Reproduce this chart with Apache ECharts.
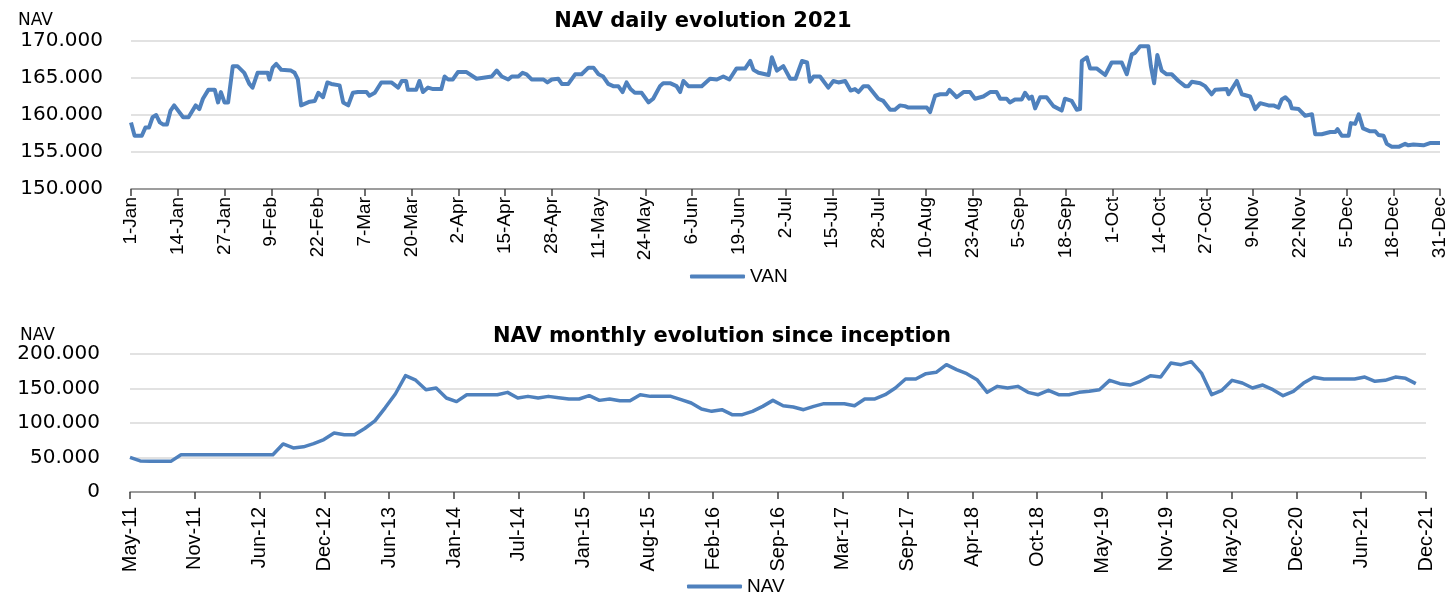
<!DOCTYPE html>
<html lang="en">
<head>
    <meta charset="UTF-8">
    <title>NAV evolution</title>
    <script src="https://cdn.jsdelivr.net/npm/echarts@6/dist/echarts.min.js"></script>
    <style>
        html, body { margin: 0; padding: 0; background: #fff; }
        #chart { width: 1456px; height: 594px; }
    </style>
</head>
<body>
    <div id="chart"></div>

    <script>
        // daily chart 2021 (x = day of year, 0 = 1-Jan)
        const dailyTickLabels = ['1-Jan','14-Jan','27-Jan','9-Feb','22-Feb','7-Mar','20-Mar','2-Apr','15-Apr','28-Apr',
            '11-May','24-May','6-Jun','19-Jun','2-Jul','15-Jul','28-Jul','10-Aug','23-Aug','5-Sep','18-Sep',
            '1-Oct','14-Oct','27-Oct','9-Nov','22-Nov','5-Dec','18-Dec','31-Dec'];

        const dailyDay = [0,1,3,4,5,6,7,8,9,10,11,12,14.5,16,18,19,20,21.5,23.3,24.2,25,26,27,28.3,29.6,31.5,32.9,33.8,35.2,38,
            38.5,39.4,40.4,41.8,44.5,45.5,46.4,47.3,49.7,51.1,52.1,53.4,54.6,55.7,58,59,60.4,61.7,63.1,65.5,66.3,67.8,69.6,72.4,
            74.3,75.3,76.5,77,79.3,80.2,81.2,82.6,84,86.3,87.2,88.2,89.5,90.9,93.3,96.1,100.3,101.7,103.1,104.9,105.9,107.7,
            108.9,110,111.4,114.7,115.8,117,118.8,119.8,121.6,123.5,125.3,127.2,128.6,130,131.3,132.7,134.1,135.5,136.7,137.8,
            138.9,140.1,142,143.9,145.2,147.1,148,149.9,151.7,152.7,153.6,155,158.7,161,162.9,164.7,166.4,168.4,170.8,172.2,
            173.1,174.5,177.3,178.2,179.6,181.4,183.3,184.8,186.6,188,188.8,189.8,191.6,193.9,195.3,196.7,198.6,200.1,201.3,
            202.3,203.7,205,207.8,209.2,211.1,212.4,213.8,215.2,216.2,221.3,222.2,223.6,225,226.8,227.6,229.6,231.5,233.3,
            234.7,237,238.9,240.7,241.7,243.5,244.4,245.8,247.7,248.6,249.8,250.5,251.4,252.8,254.6,256.5,258.8,259.7,261.6,
            263,263.9,264.4,265.8,266.7,268.5,270.9,272.7,275.5,276.9,278.3,279.2,280.6,282.9,283.6,284.5,285.4,286.6,288,
            289.4,291.3,293.1,294,295,297.3,298.7,300.5,301.5,304.7,305.2,307.5,308.9,311.2,312.6,314,316.3,317.7,319.1,320,
            321,322.2,322.8,324.7,326.5,328.4,329.3,331.1,333.5,334.9,335.5,336.7,338.6,339.2,340.4,341.4,342.6,344.6,346,
            346.9,348.3,349.2,350.6,352.5,354.3,355.2,356.6,359.4,361.2,364];

        const dailyNav = [159000,157200,157200,158300,158300,159700,160000,159000,158700,158700,160600,161300,159700,159700,
            161300,160800,162200,163400,163400,161700,163100,161700,161700,166600,166600,165700,164200,163700,165700,165700,
            164800,166400,166900,166100,166000,165700,164800,161300,161800,161900,163000,162400,164400,164200,164000,161700,
            161300,163000,163100,163100,162600,163000,164400,164400,163700,164600,164600,163400,163400,164600,163100,163700,
            163500,163500,165200,164800,164800,165800,165800,164900,165200,166000,165200,164800,165200,165200,165700,165500,
            164800,164800,164400,164800,164900,164200,164200,165500,165500,166400,166400,165500,165200,164200,163900,163900,
            163100,164400,163500,163000,163000,161700,162200,163900,164300,164300,163900,163100,164600,163900,163900,164900,
            164800,165200,164800,166300,166300,167300,166100,165700,165400,167800,166000,166600,164900,164900,167300,167100,
            164500,165200,165200,163700,164600,164400,164600,163300,163500,163100,163900,163900,162200,161900,160700,160700,
            161300,161200,161000,161000,160400,162600,162800,162800,163400,162400,163100,163100,162200,162500,163100,163100,
            162200,162200,161700,162100,162100,163000,162200,162500,160900,162400,162400,161200,160600,162200,161900,160700,
            160800,167300,167800,166300,166300,165400,167100,167100,165500,168200,168400,169300,169300,166600,164300,168100,
            166000,165500,165500,164600,163900,163900,164500,164300,163900,162800,163400,163500,162800,164600,162800,162500,
            160800,161600,161300,161300,161000,162100,162400,161800,160900,160800,159900,160100,157400,157400,157700,157700,
            158100,157200,157200,158900,158800,160100,158200,157800,157800,157300,157200,156100,155700,155700,156100,155900,
            156000,155900,156200,156200];

        // monthly chart since inception (x = months since May-11)
        const monthlyTickLabels = ['May-11','Nov-11','Jun-12','Dec-12','Jun-13','Jan-14','Jul-14','Jan-15','Aug-15','Feb-16',
            'Sep-16','Mar-17','Sep-17','Apr-18','Oct-18','May-19','Nov-19','May-20','Dec-20','Jun-21','Dec-21'];

        const monthlyNav = [50200,45000,44400,44400,44400,54000,54000,54000,54000,54000,
            54000,54000,54000,54000,54000,69600,63800,65500,70000,76000,
            85500,83100,83100,92000,103000,122000,142000,168600,162000,148300,
            150700,136200,131000,141000,141000,141000,141000,144400,136200,138600,
            136200,138600,136700,134800,134800,139600,132800,134800,132300,132300,
            141000,138600,138600,138600,133800,129000,120300,116900,119300,112100,
            112100,116900,124100,132800,125100,123200,119300,124100,128000,128000,
            128000,125100,134800,134800,141000,150700,163700,163700,171500,173500,
            184500,177300,171500,162800,144400,153100,150700,153100,144400,141000,
            147300,141000,141000,144400,145900,148300,161800,157000,155000,160400,
            168600,166600,186900,184500,188900,172400,141000,147300,161800,157900,
            150700,155000,148300,139600,145900,157900,166200,163700,163700,163700,
            163700,166600,160400,161800,166600,164700,157000];

        const blue = '#4f81bd';
        const dailyData = dailyDay.map((d, i) => [d, dailyNav[i]]);
        const monthlyData = monthlyNav.map((v, i) => [i, v]);

        function thousands(v){
            return String(v).replace(/\B(?=(\d{3})+(?!\d))/g, '.');
        }

        const chart = echarts.init(document.getElementById('chart'));
        const option = {
            animation: false,
            graphic: [
                {type: 'text', x: 703, y: 11, style: {text: 'NAV daily evolution 2021', textAlign: 'center',
                    font: 'bold 21px "DejaVu Sans"', fill: '#000'}},
                {type: 'text', x: 722, y: 326, style: {text: 'NAV monthly evolution since inception', textAlign: 'center',
                    font: 'bold 21px "DejaVu Sans"', fill: '#000'}},
                {type: 'text', x: 18, y: 12, style: {text: 'NAV', font: '17px "DejaVu Sans"', fill: '#000'}},
                {type: 'text', x: 20, y: 327, style: {text: 'NAV', font: '17px "DejaVu Sans"', fill: '#000'}},
                // the bottom tick labels are cut off above the legend, as in the original
                {type: 'rect', z: 2, shape: {x: 90, y: 573, width: 1366, height: 21}, style: {fill: '#fff'}}
            ],
            legend: [
                {data: ['VAN'], left: 690, top: 267, icon: 'roundRect', itemWidth: 55, itemHeight: 4, padding: 0, z: 5,
                    textStyle: {fontFamily: 'Liberation Sans', fontSize: 19, color: '#000'}},
                {data: ['NAV'], left: 687, top: 577, icon: 'roundRect', itemWidth: 55, itemHeight: 4, padding: 0, z: 5,
                    textStyle: {fontFamily: 'Liberation Sans', fontSize: 19, color: '#000'}}
            ],
            grid: [
                {left: 131, right: 16, top: 41, height: 148},
                {left: 130, right: 30, top: 354, height: 138}
            ],
            xAxis: [
                {
                    gridIndex: 0, type: 'value', min: 0, max: 364, interval: 13,
                    axisLine: {lineStyle: {color: '#868686', width: 1.5}},
                    axisTick: {show: true, length: 7, lineStyle: {color: '#404040', width: 1.5}},
                    splitLine: {show: false},
                    axisLabel: {rotate: 90, margin: 8, fontFamily: 'Liberation Sans', fontSize: 19, color: '#000',
                        showMinLabel: true, showMaxLabel: true,
                        formatter: v => dailyTickLabels[Math.round(v / 13)]}
                },
                {
                    gridIndex: 1, type: 'value', min: 0, max: 127, interval: 6.35,
                    axisLine: {lineStyle: {color: '#868686', width: 1.5}},
                    axisTick: {show: true, length: 7, lineStyle: {color: '#404040', width: 1.5}},
                    splitLine: {show: false},
                    axisLabel: {rotate: 90, margin: 15, fontFamily: 'Liberation Sans', fontSize: 20, color: '#000',
                        showMinLabel: true, showMaxLabel: true,
                        formatter: v => monthlyTickLabels[Math.round(v / 6.35)]}
                }
            ],
            yAxis: [
                {
                    gridIndex: 0, type: 'value', min: 150000, max: 170000, interval: 5000,
                    axisLine: {show: false}, axisTick: {show: false},
                    splitLine: {lineStyle: {color: '#d9d9d9', width: 1.5}},
                    axisLabel: {margin: 28, fontFamily: 'DejaVu Sans', fontSize: 20, color: '#000', formatter: thousands}
                },
                {
                    gridIndex: 1, type: 'value', min: 0, max: 200000, interval: 50000,
                    axisLine: {show: false}, axisTick: {show: false},
                    splitLine: {lineStyle: {color: '#d9d9d9', width: 1.5}},
                    axisLabel: {margin: 30, fontFamily: 'DejaVu Sans', fontSize: 20, color: '#000', formatter: thousands}
                }
            ],
            series: [
                {
                    name: 'VAN', type: 'line', xAxisIndex: 0, yAxisIndex: 0, data: dailyData,
                    symbol: 'none', itemStyle: {color: blue},
                    lineStyle: {color: blue, width: 4, join: 'round'}
                },
                {
                    name: 'NAV', type: 'line', xAxisIndex: 1, yAxisIndex: 1, data: monthlyData,
                    symbol: 'none', itemStyle: {color: blue},
                    lineStyle: {color: blue, width: 3.5, join: 'round'}
                }
            ]
        };
        chart.setOption(option);
    </script>
</body>
</html>
